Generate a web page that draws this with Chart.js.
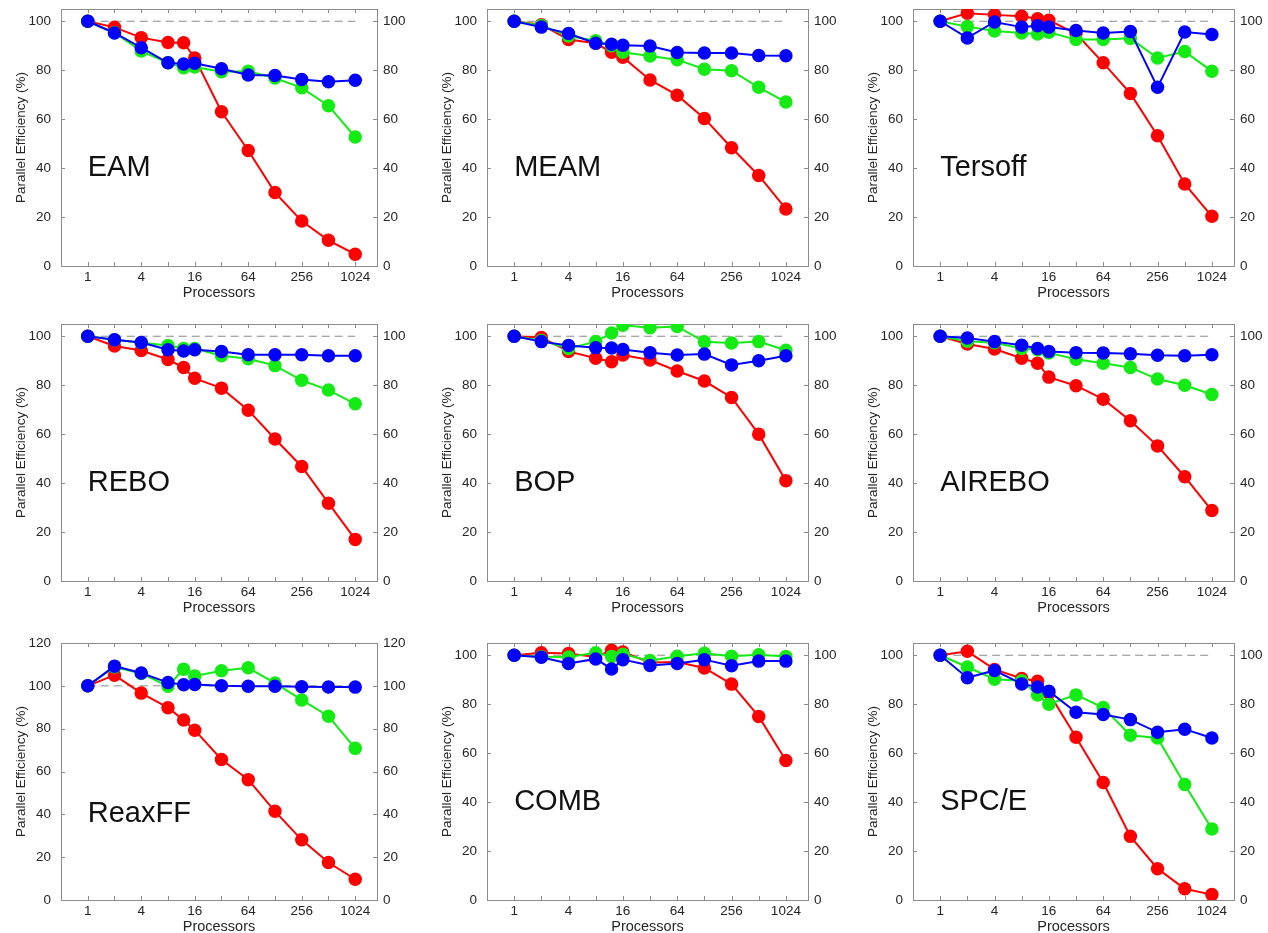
<!DOCTYPE html>
<html>
<head>
<meta charset="utf-8">
<title>Parallel efficiency by potential</title>
<script src="https://cdn.jsdelivr.net/npm/chart.js@4.4.1/dist/chart.umd.min.js"></script>
<style>
  html, body { margin: 0; padding: 0; background: #fff; overflow: hidden; width: 1268px; height: 933px; }
  canvas.panel { position: absolute; }
</style>
</head>
<body>
<script>
// Processor counts shared by every panel
const processors = [1, 2, 4, 8, 12, 16, 32, 64, 128, 256, 512, 1024];

// Axis ticks
const xTickValues = [1, 2, 4, 8, 16, 32, 64, 128, 256, 512, 1024];
const xTickLabels = ['1', '', '4', '', '16', '', '64', '', '256', '', '1024'];
const yTicks100 = [0, 20, 40, 60, 80, 100];
const yTicks120 = [0, 20, 40, 60, 80, 100, 120];

// Ideal-efficiency reference line
const idealSpan = [1, 1024];
const idealValue = 100;

// Parallel efficiency (%) per potential: red, green and blue series
const eamRed   = [100, 97.5, 93.3, 91.3, 91.2, 85.0, 63.0, 47.2, 30.0, 18.4, 10.5, 4.8];
const eamGreen = [100, 95.3, 87.8, 83.0, 81.0, 81.3, 79.4, 79.6, 76.8, 72.8, 65.5, 52.7];
const eamBlue  = [100, 95.2, 89.2, 83.0, 82.5, 82.8, 80.6, 78.0, 77.8, 76.2, 75.3, 75.9];

const meamRed   = [100, 98.6, 92.5, 91.0, 87.3, 85.3, 76.0, 69.8, 60.3, 48.3, 37.0, 23.3];
const meamGreen = [100, 98.3, 94.0, 92.0, 90.0, 87.3, 85.8, 84.3, 80.4, 79.8, 73.0, 67.0];
const meamBlue  = [100, 97.6, 95.0, 91.0, 90.6, 90.2, 89.9, 87.2, 87.0, 87.0, 86.0, 85.9];

const tersoffRed   = [100, 103.3, 102.6, 102.0, 101.0, 100.4, 95.0, 83.0, 70.5, 53.2, 33.5, 20.3];
const tersoffGreen = [100, 97.8, 96.0, 95.2, 94.8, 95.5, 92.5, 92.5, 93.0, 85.0, 87.6, 79.6];
const tersoffBlue  = [100, 93.2, 99.7, 97.6, 98.2, 97.6, 96.2, 95.2, 95.8, 73.0, 95.6, 94.6];

const reboRed   = [100, 96.0, 94.2, 90.5, 87.2, 82.8, 78.8, 69.8, 58.0, 46.8, 31.8, 17.0];
const reboGreen = [100, 98.6, 97.3, 96.2, 95.0, 95.0, 92.0, 90.8, 88.0, 82.0, 78.0, 72.4];
const reboBlue  = [100, 98.6, 97.4, 94.5, 94.0, 94.5, 93.8, 92.4, 92.4, 92.4, 92.0, 92.0];

const bopRed   = [100, 99.5, 93.8, 91.0, 89.6, 92.3, 90.3, 85.8, 81.7, 75.0, 60.0, 41.0];
const bopGreen = [100, 98.3, 95.0, 97.8, 101.3, 104.5, 103.5, 104.0, 97.7, 97.2, 97.8, 94.3];
const bopBlue  = [100, 97.8, 96.2, 95.3, 95.2, 94.6, 93.3, 92.3, 92.7, 88.3, 90.0, 92.0];

const aireboRed   = [100, 96.8, 94.8, 91.0, 89.0, 83.3, 79.8, 74.3, 65.5, 55.2, 42.6, 28.8];
const aireboGreen = [100, 98.0, 97.3, 95.0, 94.5, 93.2, 90.6, 89.0, 87.2, 82.5, 80.0, 76.2];
const aireboBlue  = [100, 99.3, 97.8, 96.3, 95.0, 93.8, 93.3, 93.2, 92.8, 92.2, 92.0, 92.4];

const reaxffRed   = [100, 105.0, 96.6, 89.8, 84.0, 79.3, 65.6, 56.2, 41.4, 28.1, 17.5, 9.7];
const reaxffGreen = [100, 108.8, 105.8, 99.8, 107.8, 104.6, 107.0, 108.4, 101.3, 93.4, 85.8, 70.8];
const reaxffBlue  = [100, 109.2, 106.0, 101.5, 100.5, 100.6, 100.0, 99.8, 99.8, 99.6, 99.5, 99.4];

const combRed   = [100, 101.0, 100.7, 99.3, 102.0, 101.3, 97.0, 97.2, 94.8, 88.2, 75.0, 57.0];
const combGreen = [100, 99.4, 99.3, 101.0, 99.5, 100.4, 97.8, 99.6, 100.8, 99.6, 100.2, 99.5];
const combBlue  = [100, 99.2, 96.6, 98.5, 94.4, 98.2, 95.8, 96.6, 98.2, 95.7, 97.6, 97.6];

const spceRed   = [100, 101.6, 94.2, 90.5, 89.4, 84.6, 66.5, 48.0, 26.0, 12.8, 4.6, 2.2];
const spceGreen = [100, 95.2, 90.2, 89.6, 83.8, 80.0, 83.8, 78.6, 67.3, 66.2, 47.2, 29.0];
const spceBlue  = [100, 90.8, 93.8, 88.3, 87.0, 85.3, 76.7, 75.8, 73.7, 68.5, 69.8, 66.2];

const potentialNames = ['EAM', 'MEAM', 'Tersoff', 'REBO', 'BOP', 'AIREBO', 'ReaxFF', 'COMB', 'SPC/E'];
const redSeries   = [eamRed, meamRed, tersoffRed, reboRed, bopRed, aireboRed, reaxffRed, combRed, spceRed];
const greenSeries = [eamGreen, meamGreen, tersoffGreen, reboGreen, bopGreen, aireboGreen, reaxffGreen, combGreen, spceGreen];
const blueSeries  = [eamBlue, meamBlue, tersoffBlue, reboBlue, bopBlue, aireboBlue, reaxffBlue, combBlue, spceBlue];
const yMaxes      = [105, 105, 105, 105, 105, 105, 120, 105, 105];

// Page layout: plot-area edges of the 3x3 grid
const colLeft = [61, 487, 913];
const colRight = [377, 808, 1234];
const rowTop = [9, 324, 643];
const rowBottom = [266, 581, 900];
const AXIS_LEFT = 61, AXIS_RIGHT = 34, AXIS_BOTTOM = 36, PAD_TOP = 9;
const X_MIN = 0.5, X_MAX = 1800;

const FONT = '"Liberation Sans", Arial, Helvetica, sans-serif';
const TEXT = '#262626';
const FRAME = '#8c8c8c';
const COLORS = { red: 'rgb(255,0,0)', green: 'rgb(20,235,20)', blue: 'rgb(0,0,255)' };

function points(values) {
  return values.map((v, i) => ({ x: processors[i], y: v }));
}

// Box frame, inward tick marks and the potential name
const framePlugin = {
  id: 'frameAndName',
  beforeDatasetsDraw(chart) {
    const { ctx, chartArea: a, scales } = chart;
    ctx.save();
    ctx.strokeStyle = FRAME;
    ctx.lineWidth = 1;
    ctx.strokeRect(Math.round(a.left) + 0.5, Math.round(a.top) + 0.5,
                   Math.round(a.right - a.left), Math.round(a.bottom - a.top));
    const len = 4;
    ctx.beginPath();
    scales.x.ticks.forEach(t => {
      const px = Math.round(scales.x.getPixelForValue(t.value)) + 0.5;
      ctx.moveTo(px, a.bottom); ctx.lineTo(px, a.bottom - len);
      ctx.moveTo(px, a.top); ctx.lineTo(px, a.top + len);
    });
    scales.y.ticks.forEach(t => {
      const py = Math.round(scales.y.getPixelForValue(t.value)) + 0.5;
      ctx.moveTo(a.left, py); ctx.lineTo(a.left + len, py);
      ctx.moveTo(a.right, py); ctx.lineTo(a.right - len, py);
    });
    ctx.stroke();

    const name = chart.options.plugins.frameAndName.name;
    ctx.fillStyle = '#111';
    ctx.font = '29px ' + FONT;
    ctx.textAlign = 'left';
    ctx.textBaseline = 'middle';
    ctx.fillText(name, scales.x.getPixelForValue(1), scales.y.getPixelForValue(40));
    ctx.restore();
  }
};

function seriesDataset(values, color, order) {
  return {
    data: points(values),
    borderColor: color,
    backgroundColor: color,
    pointBackgroundColor: color,
    pointBorderColor: color,
    borderWidth: 2,
    pointRadius: 6,
    pointBorderWidth: 1.5,
    tension: 0,
    order: order
  };
}

const noGrid = { display: false, drawTicks: false };

potentialNames.forEach((name, i) => {
  const c = i % 3, r = Math.floor(i / 3);
  const w = colRight[c] - colLeft[c];
  const h = rowBottom[r] - rowTop[r];
  const canvas = document.createElement('canvas');
  canvas.className = 'panel';
  canvas.width = w + AXIS_LEFT + AXIS_RIGHT;
  canvas.height = h + PAD_TOP + AXIS_BOTTOM;
  canvas.style.left = (colLeft[c] - AXIS_LEFT) + 'px';
  canvas.style.top = (rowTop[r] - PAD_TOP) + 'px';
  canvas.style.width = canvas.width + 'px';
  canvas.style.height = canvas.height + 'px';
  document.body.appendChild(canvas);

  const yMax = yMaxes[i];
  const yTicks = yMax > 110 ? yTicks120 : yTicks100;
  const tickFont = { family: FONT, size: 13.5 };

  new Chart(canvas, {
    type: 'line',
    data: {
      datasets: [
        seriesDataset(blueSeries[i], COLORS.blue, 0),
        seriesDataset(greenSeries[i], COLORS.green, 1),
        seriesDataset(redSeries[i], COLORS.red, 2),
        {
          data: idealSpan.map(x => ({ x: x, y: idealValue })),
          borderColor: '#8a8a8a',
          borderWidth: 1,
          borderDash: [8, 5],
          pointRadius: 0,
          order: 3
        }
      ]
    },
    options: {
      responsive: false,
      animation: false,
      devicePixelRatio: 1,
      layout: { padding: { top: PAD_TOP, left: 0, right: 0, bottom: 0 } },
      plugins: {
        legend: { display: false },
        tooltip: { enabled: false },
        frameAndName: { name: name }
      },
      scales: {
        x: {
          type: 'logarithmic',
          position: 'bottom',
          min: X_MIN,
          max: X_MAX,
          afterBuildTicks: s => { s.ticks = xTickValues.map(v => ({ value: v })); },
          afterFit: s => { s.height = AXIS_BOTTOM; s.paddingLeft = 0; s.paddingRight = 0; },
          grid: noGrid,
          border: { display: false },
          ticks: {
            autoSkip: false, maxRotation: 0, minRotation: 0, padding: 3,
            color: TEXT, font: tickFont,
            callback: (v, idx) => xTickLabels[idx]
          },
          title: {
            display: true, text: 'Processors', color: TEXT,
            font: { family: FONT, size: 14.5 }, padding: { top: 0, bottom: 0 }
          }
        },
        y: {
          type: 'linear',
          position: 'left',
          min: 0,
          max: yMax,
          afterBuildTicks: s => { s.ticks = yTicks.map(v => ({ value: v })); },
          afterFit: s => { s.width = AXIS_LEFT; s.paddingTop = 0; s.paddingBottom = 0; },
          grid: noGrid,
          border: { display: false },
          ticks: { padding: 10, color: TEXT, font: tickFont },
          title: {
            display: true, text: 'Parallel Efficiency (%)', color: TEXT,
            font: { family: FONT, size: 13.5 }, padding: { top: 13, bottom: 0 }
          }
        },
        y2: {
          type: 'linear',
          position: 'right',
          min: 0,
          max: yMax,
          afterBuildTicks: s => { s.ticks = yTicks.map(v => ({ value: v })); },
          afterFit: s => { s.width = AXIS_RIGHT; s.paddingTop = 0; s.paddingBottom = 0; },
          grid: noGrid,
          border: { display: false },
          ticks: { padding: 6, color: TEXT, font: tickFont }
        }
      }
    },
    plugins: [framePlugin]
  });
});
</script>
</body>
</html>
